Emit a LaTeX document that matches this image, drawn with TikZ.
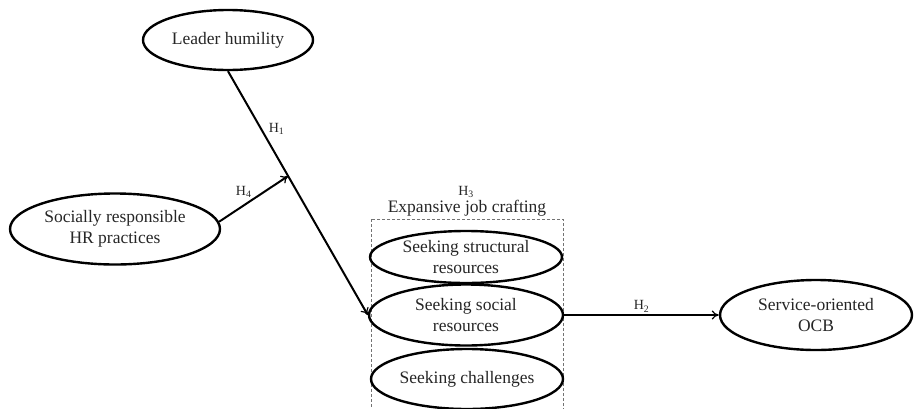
\documentclass[tikz,border=0pt]{standalone}
\usepackage{fontspec}
\setmainfont{Liberation Serif}
\usetikzlibrary{shapes.geometric,arrows.meta}
\begin{document}
\begin{tikzpicture}[x=1pt,y=-1pt,
  oval/.style={draw, ellipse, line width=2.4pt, inner sep=0pt},
  txt/.style={align=center, font=\fontsize{17.5}{20.5}\selectfont, text=black!85, inner sep=0pt},
  hl/.style={font=\fontsize{14}{16}\selectfont, text=black!85, inner sep=1pt},
  conn/.style={line width=2pt, -{To[length=7pt,width=9pt,line width=1.2pt]}},
  dashbox/.style={draw=black!55, dashed, dash pattern=on 3pt off 2pt, line width=0.7pt}
]
\useasboundingbox (0,0) rectangle (915,408);
\fill[white] (0,0) rectangle (915,408);

% dashed group frame
\draw[dashbox] (371,219) rectangle (563,414);

\node[oval, minimum width=170pt, minimum height=60pt,
  label={[txt]center:Leader humility}] (lh) at (228,40) {};
\node[oval, minimum width=210pt, minimum height=71pt,
  label={[txt]center:Socially responsible\\HR practices}] (srhr) at (115,229) {};
\node[oval, minimum width=192pt, minimum height=52pt,
  label={[txt]center:Seeking structural\\resources}] (struct) at (466,257) {};
\node[oval, minimum width=194pt, minimum height=61pt,
  label={[txt]center:Seeking social\\resources}] (soc) at (466,315) {};
\node[oval, minimum width=192pt, minimum height=60pt,
  label={[txt]center:Seeking challenges}] (chal) at (467,379) {};
\node[oval, minimum width=192pt, minimum height=70pt,
  label={[txt]center:Service-oriented\\OCB}] (ocb) at (816,315) {};

\node[txt] (ejc) at (467,208) {Expansive job crafting};
\node[hl] (h3) at (466,192) {H\textsubscript{3}};

% H1 path with moderation junction
\draw[conn] (lh.south) -- coordinate[pos=0.43] (j)
  node[hl, pos=0.235, anchor=west, xshift=6pt] (h1) {H\textsubscript{1}} (soc.west);
% H4
\draw[conn] (srhr.4) -- node[hl, pos=0.4, above=4pt, xshift=-3pt] (h4) {H\textsubscript{4}} (j);
% H2
\draw[conn] (soc.east) -- node[hl, midway, above=1pt] (h2) {H\textsubscript{2}} (ocb.west);
\end{tikzpicture}
\end{document}
